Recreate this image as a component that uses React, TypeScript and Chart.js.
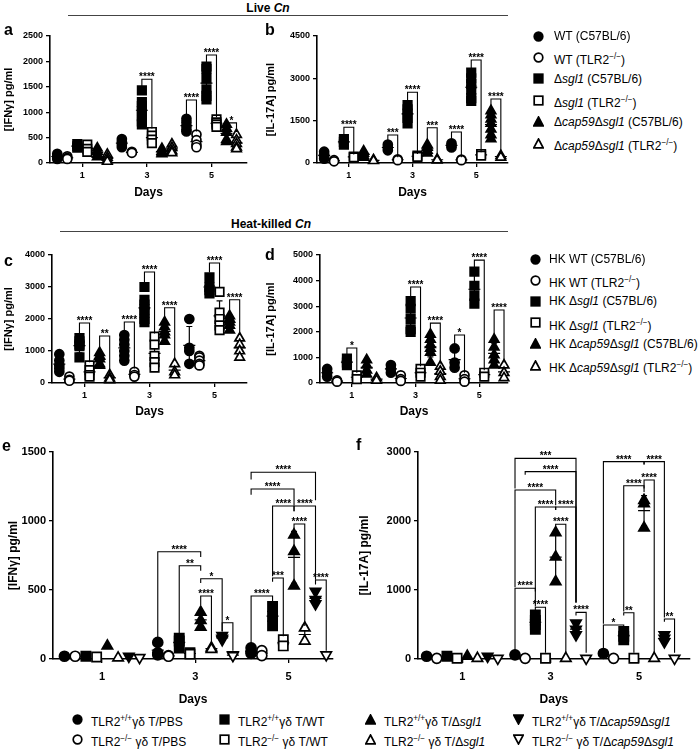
import { useEffect, useRef } from "react";
import { Chart, registerables } from "chart.js";

Chart.register(...registerables);

const FONT = "'Liberation Sans', Arial, Helvetica, sans-serif";

const days = [1, 3, 5];

// a: live Cn, IFNγ pg/ml. one row per group, values for day 1 / 3 / 5
const ifnLive = [
  [[180, 140, 110, 80], [470, 420, 360, 310], [870, 800, 730, 660, 620]],
  [[130, 100, 80], [220, 200], [560, 450, 360, 310]],
  [[370, 330, 300], [1430, 1200, 1120, 1020, 920, 820, 760], [1900, 1850, 1660, 1450, 1320, 1250]],
  [[360, 280, 220], [610, 540, 460, 390], [860, 800, 760, 710]],
  [[290, 230, 170, 120], [280, 230, 200, 180], [760, 680, 600, 460, 420]],
  [[170, 110, 60, 30], [370, 300, 240, 200], [560, 450, 380, 310, 280]],
];
// [day, group A, group B, bracket top, leg A end, leg B end, label]
const ifnLiveSig = [
  [3, 2, 3, 1650, 1500, 680, "****"],
  [5, 0, 1, 1240, 950, 620, "****"],
  [5, 2, 3, 2126, 1970, 900, "****"],
  [5, 4, 5, 790, 770, 610, "*"],
];

// b: live Cn, IL-17A pg/ml
const il17Live = [
  [[400, 300, 220, 150], [650, 550, 450], [700, 620, 550]],
  [[100, 60], [130, 100], [120, 100]],
  [[850, 750, 650], [2050, 1900, 1750, 1600, 1400], [3200, 3000, 2800, 2600, 2300, 2200]],
  [[230, 200], [260, 220], [320, 260]],
  [[420, 340, 260, 200], [650, 550, 450, 350], [1850, 1700, 1550, 1400, 1200, 1000, 850]],
  [[110, 80], [130, 100], [260, 200]],
];
const il17LiveSig = [
  [1, 2, 3, 1265, 950, 300, "****"],
  [3, 0, 1, 992, 750, 200, "***"],
  [3, 2, 3, 2505, 2150, 320, "****"],
  [3, 4, 5, 1250, 720, 200, "***"],
  [5, 0, 1, 1100, 780, 200, "****"],
  [5, 2, 3, 3650, 3350, 380, "****"],
  [5, 4, 5, 2268, 1950, 320, "****"],
];

// c: heat-killed Cn, IFNγ pg/ml
const ifnHk = [
  [[900, 700, 550, 450, 350], [1500, 1350, 1200, 1000, 850, 700], [2000, 1100, 1000, 600]],
  [[200, 100, 70], [350, 250, 200], [850, 800, 700, 600, 550]],
  [[1400, 1300, 1200, 1150, 800], [3000, 2600, 2450, 2300, 2200, 2000, 1900], [3300, 3000, 2900, 2800]],
  [[550, 400, 250, 200], [1450, 1200, 850, 650, 480], [2850, 2200, 2000, 1800, 1650]],
  [[950, 850, 750, 600, 550], [1900, 1750, 1600, 1500, 1300], [2100, 2000, 1900, 1800, 1650]],
  [[250, 150, 100], [600, 350, 250], [1400, 1200, 1000, 800]],
];
const ifnHkSig = [
  [1, 2, 3, 1875, 1550, 650, "****"],
  [1, 4, 5, 1470, 1050, 330, "**"],
  [3, 0, 1, 1906, 1600, 450, "****"],
  [3, 2, 3, 3470, 3150, 1550, "****"],
  [3, 4, 5, 2350, 2000, 700, "****"],
  [5, 2, 3, 3750, 3450, 3000, "****"],
  [5, 4, 5, 2600, 2200, 1500, "****"],
];

// d: heat-killed Cn, IL-17A pg/ml
const il17Hk = [
  [[550, 400, 250], [700, 550, 400], [1350, 800, 600]],
  [[100, 50], [300, 150, 80], [300, 150, 50]],
  [[950, 800, 700], [3200, 2900, 2500, 2100, 2000], [4350, 3800, 3400, 3100]],
  [[300, 150], [550, 400, 250], [400, 250]],
  [[900, 700, 500, 350], [1900, 1700, 1500, 1350, 1200, 800], [1700, 1400, 1100, 900, 700]],
  [[200, 100], [650, 450, 250, 100], [700, 400, 200]],
];
const il17HkSig = [
  [1, 2, 3, 1370, 1100, 400, "*"],
  [3, 2, 3, 3750, 3400, 650, "****"],
  [3, 4, 5, 2340, 2000, 750, "****"],
  [5, 0, 1, 1875, 1500, 400, "*"],
  [5, 2, 3, 4800, 4500, 500, "****"],
  [5, 4, 5, 2850, 1850, 800, "****"],
];

// e: γδ T transfer, IFNγ pg/ml
const ifnGd = [
  [[20], [120, 45, 30], [80, 50, 40]],
  [[20], [25, 20], [60, 25]],
  [[20], [150, 130, 80], [380, 310, 240]],
  [[15], [45, 35], [140, 95]],
  [[95], [340, 280, 230], [900, 780, 530]],
  [[8], [80, 70], [225, 130]],
  [[20], [170, 150, 140], [490, 430, 400]],
  [[10], [30, 25], [30]],
];
const ifnGdSig = [
  [3, 0, 4, 777, 150, 740, "****"],
  [3, 2, 4, 676, 180, 640, "**"],
  [3, 4, 6, 582, 550, 200, "*"],
  [3, 4, 5, 456, 390, 110, "****"],
  [3, 6, 7, 263, 200, 60, "*"],
  [5, 0, 6, 1353, 1300, 1150, "****"],
  [5, 0, 4, 1232, 1190, 1115, "****"],
  [5, 2, 4, 1109, 600, 1070, "****"],
  [5, 4, 6, 1109, 1070, 575, "****"],
  [5, 4, 5, 978, 940, 240, "****"],
  [5, 2, 3, 587, 560, 165, "***"],
  [5, 0, 2, 456, 110, 420, "****"],
  [5, 6, 7, 572, 540, 60, "****"],
];

// f: γδ T transfer, IL-17A pg/ml
const il17Gd = [
  [[40], [60], [80]],
  [[10], [10], [10]],
  [[40], [640, 560, 500, 430], [400, 330, 280]],
  [[10], [10], [10]],
  [[40], [1830, 1480, 1120], [2300, 2250, 1900]],
  [[10], [10], [10]],
  [[40], [520, 430, 350], [350, 300, 250]],
  [[10], [10], [10]],
];
const il17GdSig = [
  [3, 0, 6, 2908, 2470, 820, "***"],
  [3, 1, 6, 2715, 2670, 820, "****"],
  [3, 0, 4, 2449, 1040, 2230, "****"],
  [3, 2, 4, 2203, 760, 2160, "****"],
  [3, 4, 6, 2203, 2160, 820, "****"],
  [3, 4, 5, 1952, 1900, 90, "****"],
  [3, 0, 2, 1025, 130, 980, "****"],
  [3, 2, 3, 749, 700, 90, "****"],
  [3, 6, 7, 676, 630, 90, "****"],
  [5, 0, 4, 2860, 510, 2820, "****"],
  [5, 4, 6, 2860, 2820, 600, "****"],
  [5, 2, 4, 2511, 690, 2470, "****"],
  [5, 4, 5, 2594, 2420, 90, "****"],
  [5, 0, 2, 493, 130, 460, "*"],
  [5, 2, 3, 671, 630, 90, "**"],
  [5, 6, 7, 580, 540, 90, "**"],
];

const ko = <sup style={{ fontSize: "0.68em" }}>−/−</sup>;
const wt = <sup style={{ fontSize: "0.68em" }}>+/+</sup>;

const liveNames = [
  <>WT (C57BL/6)</>,
  <>WT (TLR2{ko})</>,
  <>Δ<i>sgl1</i> (C57BL/6)</>,
  <>Δ<i>sgl1</i> (TLR2{ko})</>,
  <>Δ<i>cap59</i>Δ<i>sgl1</i> (C57BL/6)</>,
  <>Δ<i>cap59</i>Δ<i>sgl1</i> (TLR2{ko})</>,
];
const hkNames = [
  <>HK WT (C57BL/6)</>,
  <>HK WT (TLR2{ko})</>,
  <>HK Δ<i>sgl1</i> (C57BL/6)</>,
  <>HK Δ<i>sgl1</i> (TLR2{ko})</>,
  <>HK Δ<i>cap59</i>Δ<i>sgl1</i> (C57BL/6)</>,
  <>HK Δ<i>cap59</i>Δ<i>sgl1</i> (TLR2{ko})</>,
];
const gdNames = [
  <>TLR2{wt}γδ T/PBS</>,
  <>TLR2{ko} γδ T/PBS</>,
  <>TLR2{wt}γδ T/WT</>,
  <>TLR2{ko} γδ T/WT</>,
  <>TLR2{wt}γδ T/Δ<i>sgl1</i></>,
  <>TLR2{ko} γδ T/Δ<i>sgl1</i></>,
  <>TLR2{wt}γδ T/Δ<i>cap59</i>Δ<i>sgl1</i></>,
  <>TLR2{ko} γδ T/Δ<i>cap59</i>Δ<i>sgl1</i></>,
];

const shapes = ["circle", "circle", "rect", "rect", "triangle", "triangle", "triangle", "triangle"];

type Panel = {
  values: number[][][];
  sig: (number | string)[][];
  yMax: number;
  yStep: number;
  yTitle: string;
  box: [number, number, number, number]; // left, top, right, bottom
  area: [number, number, number, number]; // x0, y0, x1, y1
  xRange: [number, number];
  spacing: number;
  big: boolean;
};

const panels: Panel[] = [
  { values: ifnLive, sig: ifnLiveSig, yMax: 2500, yStep: 500, yTitle: "[IFNγ] pg/ml", box: [0, 26, 255, 200], area: [50, 36, 247, 163], xRange: [0, 6.1], spacing: 0.31, big: false },
  { values: il17Live, sig: il17LiveSig, yMax: 4500, yStep: 1500, yTitle: "[IL-17A] pg/ml", box: [262, 26, 516, 200], area: [317, 36, 508, 163], xRange: [0, 6], spacing: 0.31, big: false },
  { values: ifnHk, sig: ifnHkSig, yMax: 4000, yStep: 1000, yTitle: "[IFNγ] pg/ml", box: [0, 245, 255, 419], area: [52, 255, 247, 383], xRange: [0, 6], spacing: 0.31, big: false },
  { values: il17Hk, sig: il17HkSig, yMax: 5000, yStep: 1000, yTitle: "[IL-17A] pg/ml", box: [262, 245, 516, 419], area: [320, 255, 508, 383], xRange: [0, 5.9], spacing: 0.31, big: false },
  { values: ifnGd, sig: ifnGdSig, yMax: 1500, yStep: 500, yTitle: "[IFNγ] pg/ml", box: [4, 440, 345, 707], area: [53, 452, 333, 659], xRange: [-0.05, 5.95], spacing: 0.23, big: true },
  { values: il17Gd, sig: il17GdSig, yMax: 3000, yStep: 1000, yTitle: "[IL-17A] pg/ml", box: [355, 440, 698, 707], area: [418, 452, 692, 659], xRange: [0, 6.15], spacing: 0.23, big: true },
];

function build(canvas: HTMLCanvasElement, p: Panel) {
  const n = p.values.length;
  const xOf = (day: number, s: number) => day + (s - (n - 1) / 2) * p.spacing;
  const [bl, bt, br, bb] = p.box;
  const [x0, y0, x1, y1] = p.area;
  const radius = (s: number) =>
    shapes[s] === "circle" ? (p.big ? 5 : 4.5) : shapes[s] === "rect" ? (p.big ? 6.5 : 6) : p.big ? 6 : 5.5;

  const datasets = p.values.map((rows, s) => ({
    data: days.flatMap((d, i) => rows[i].map((v) => ({ x: xOf(d, s), y: v }))),
    pointStyle: shapes[s],
    pointRotation: s >= 6 ? 180 : 0,
    pointRadius: radius(s),
    pointHoverRadius: radius(s),
    pointBackgroundColor: s % 2 === 0 ? "#000" : "#fff",
    pointBorderColor: "#000",
    pointBorderWidth: 1.7,
    showLine: false,
    clip: false,
  }));

  const whiskers = {
    id: "whiskers",
    beforeDatasetsDraw(chart: Chart) {
      const { ctx } = chart;
      const xs = chart.scales.x;
      const ys = chart.scales.y;
      ctx.save();
      ctx.strokeStyle = "#000";
      ctx.lineWidth = 1.2;
      p.values.forEach((rows, s) =>
        rows.forEach((vals, i) => {
          if (vals.length < 2) return;
          const mean = vals.reduce((a, b) => a + b, 0) / vals.length;
          const sd = Math.sqrt(vals.reduce((a, b) => a + (b - mean) ** 2, 0) / (vals.length - 1));
          const px = xs.getPixelForValue(xOf(days[i], s));
          const hi = ys.getPixelForValue(mean + sd);
          const lo = ys.getPixelForValue(Math.max(0, mean - sd));
          const mid = ys.getPixelForValue(mean);
          ctx.beginPath();
          ctx.moveTo(px, hi);
          ctx.lineTo(px, lo);
          ctx.moveTo(px - 3, hi);
          ctx.lineTo(px + 3, hi);
          ctx.moveTo(px - 3, lo);
          ctx.lineTo(px + 3, lo);
          ctx.moveTo(px - 6, mid);
          ctx.lineTo(px + 6, mid);
          ctx.stroke();
        })
      );
      ctx.restore();
    },
  };

  const brackets = {
    id: "brackets",
    afterDatasetsDraw(chart: Chart) {
      const { ctx } = chart;
      const xs = chart.scales.x;
      const ys = chart.scales.y;
      ctx.save();
      ctx.strokeStyle = "#000";
      ctx.fillStyle = "#000";
      ctx.lineWidth = 1.1;
      ctx.font = `bold 10px ${FONT}`;
      ctx.textAlign = "center";
      ctx.textBaseline = "alphabetic";
      p.sig.forEach((b) => {
        const [day, sa, sb, top, la, lb, label] = b as [number, number, number, number, number, number, string];
        const xa = xs.getPixelForValue(xOf(day, sa));
        const xb = xs.getPixelForValue(xOf(day, sb));
        const yt = ys.getPixelForValue(top);
        ctx.beginPath();
        ctx.moveTo(xa, ys.getPixelForValue(la));
        ctx.lineTo(xa, yt);
        ctx.lineTo(xb, yt);
        ctx.lineTo(xb, ys.getPixelForValue(lb));
        ctx.stroke();
        ctx.fillText(label, (xa + xb) / 2, yt + 1);
      });
      ctx.restore();
    },
  };

  const tickFont = { family: FONT, size: p.big ? 11 : 9, weight: "bold" as const };
  const axisGrid = { display: true, drawOnChartArea: false, drawTicks: true, tickLength: 4, color: "#000", lineWidth: 1.3 };
  const axisBorder = { display: true, color: "#000", width: 1.6 };

  return new Chart(canvas, {
    type: "scatter",
    data: { datasets: datasets as any },
    plugins: [whiskers, brackets],
    options: {
      animation: false,
      responsive: false,
      events: [],
      layout: { padding: { top: y0 - bt, right: br - x1, left: 0, bottom: 0 } },
      plugins: { legend: { display: false }, tooltip: { enabled: false } },
      scales: {
        x: {
          type: "linear",
          min: p.xRange[0],
          max: p.xRange[1],
          afterBuildTicks: (sc: any) => {
            sc.ticks = days.map((v) => ({ value: v }));
          },
          afterFit: (sc: any) => {
            sc.height = bb - y1;
          },
          ticks: { font: tickFont, color: "#000", padding: p.big ? 7 : 3, callback: (v: any) => String(v) },
          grid: axisGrid,
          border: axisBorder,
          title: { display: true, text: "Days", color: "#000", font: { family: FONT, size: 12, weight: "bold" }, padding: 0 },
        },
        y: {
          min: 0,
          max: p.yMax,
          afterBuildTicks: (sc: any) => {
            const t = [];
            for (let v = 0; v <= p.yMax; v += p.yStep) t.push({ value: v });
            sc.ticks = t;
          },
          afterFit: (sc: any) => {
            sc.width = x0 - bl;
          },
          ticks: { font: tickFont, color: "#000", padding: 3, callback: (v: any) => String(v) },
          grid: axisGrid,
          border: axisBorder,
          title: {
            display: true,
            text: p.yTitle,
            color: "#000",
            font: { family: FONT, size: p.big ? 12 : 11, weight: "bold" },
            padding: { top: 2, bottom: 0 },
          },
        },
      },
    } as any,
  });
}

function PanelChart({ p }: { p: Panel }) {
  const ref = useRef<HTMLCanvasElement | null>(null);
  useEffect(() => {
    if (!ref.current) return;
    const chart = build(ref.current, p);
    return () => chart.destroy();
  }, [p]);
  const [bl, bt, br, bb] = p.box;
  return (
    <canvas
      ref={ref}
      width={br - bl}
      height={bb - bt}
      style={{ position: "absolute", left: bl, top: bt, width: br - bl, height: bb - bt }}
    />
  );
}

function Marker({ s }: { s: number }) {
  const fill = s % 2 === 0 ? "#000" : "#fff";
  const common = { fill, stroke: "#000", strokeWidth: 1.7 };
  let shape;
  if (shapes[s] === "circle") shape = <circle cx={5.5} cy={5.5} r={4.3} {...common} />;
  else if (shapes[s] === "rect") shape = <rect x={1.2} y={1.2} width={8.6} height={8.6} {...common} />;
  else if (s >= 6) shape = <polygon points="0.8,1.2 10.2,1.2 5.5,10" {...common} />;
  else shape = <polygon points="5.5,1 10.2,9.8 0.8,9.8" {...common} />;
  return (
    <svg width={11} height={11} style={{ display: "block" }}>
      {shape}
    </svg>
  );
}

function Label({ x, y, children, size, bold, center }: any) {
  return (
    <div
      style={{
        position: "absolute",
        left: center ? x - 200 : x,
        top: y - 9,
        width: center ? 400 : undefined,
        height: 18,
        lineHeight: "18px",
        textAlign: center ? "center" : "left",
        fontFamily: FONT,
        fontSize: size,
        fontWeight: bold ? "bold" : "normal",
        whiteSpace: "nowrap",
        color: "#000",
      }}
    >
      {children}
    </div>
  );
}

function LegendRow({ s, mx, tx, y, name }: { s: number; mx: number; tx: number; y: number; name: any }) {
  return (
    <>
      <div style={{ position: "absolute", left: mx - 5.5, top: y - 5.5 }}>
        <Marker s={s} />
      </div>
      <Label x={tx} y={y} size={12}>
        {name}
      </Label>
    </>
  );
}

function Header({ text, y, cx, x0, x1 }: any) {
  return (
    <>
      <Label x={cx} y={y} size={12} bold center>
        {text}
      </Label>
      <div style={{ position: "absolute", left: x0, top: y + 7, width: x1 - x0, height: 0, borderTop: "1.5px solid #444" }} />
    </>
  );
}

export default function App() {
  const cols = [
    [77, 91],
    [224, 238],
    [370, 384],
    [518, 532],
  ];
  return (
    <div style={{ position: "absolute", left: 0, top: 0, width: 698, height: 749, background: "#fff", overflow: "hidden" }}>
      <Header text={<>Live <i>Cn</i></>} y={8} cx={268} x0={68} x1={508} />
      <Header text={<>Heat-killed <i>Cn</i></>} y={224} cx={271} x0={60} x1={508} />
      {panels.map((p, i) => (
        <PanelChart key={i} p={p} />
      ))}
      <Label x={4} y={30} size={16} bold>a</Label>
      <Label x={265} y={30} size={16} bold>b</Label>
      <Label x={4} y={261} size={16} bold>c</Label>
      <Label x={265} y={255} size={16} bold>d</Label>
      <Label x={2} y={446} size={16} bold>e</Label>
      <Label x={356} y={445} size={16} bold>f</Label>
      {liveNames.map((nm, s) => (
        <LegendRow key={"l" + s} s={s} mx={538} tx={554} y={36 + s * 21.4} name={nm} />
      ))}
      {hkNames.map((nm, s) => (
        <LegendRow key={"h" + s} s={s} mx={535} tx={549} y={259 + s * 21.2} name={nm} />
      ))}
      {gdNames.map((nm, s) => (
        <LegendRow key={"g" + s} s={s} mx={cols[s >> 1][0]} tx={cols[s >> 1][1]} y={s % 2 === 0 ? 719 : 739} name={nm} />
      ))}
    </div>
  );
}
